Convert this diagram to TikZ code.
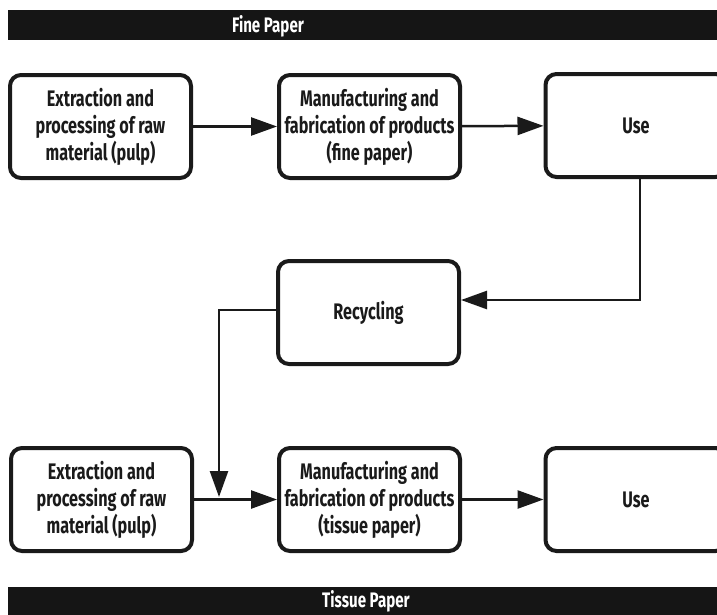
\documentclass[tikz,border=0pt]{standalone}
\usepackage{fontspec}
\setmainfont{Fira Sans}[FakeStretch=0.72]
\usetikzlibrary{arrows.meta,calc}
\definecolor{barc}{HTML}{151515}
\definecolor{ink}{HTML}{1A1A1A}
\tikzset{
  box/.style={draw=ink, line width=4pt, rounded corners=11pt, fill=white,
    minimum width=181pt, minimum height=103pt, align=center, text=ink,
    font=\fontsize{22.5}{27}\selectfont\bfseries, inner sep=2pt},
  arr/.style={draw=ink, line width=2.5pt, -{Triangle[length=26pt,width=18pt]}},
  bartext/.style={text=white, font=\fontsize{21}{24}\selectfont\bfseries, inner sep=0pt},
}
\begin{document}
\begin{tikzpicture}[x=1pt,y=-1pt]
\clip (0,0) rectangle (717,614);
\fill[white] (0,0) rectangle (717,614);
% bars
\fill[barc] (8,10) rectangle (730,40);
\node[bartext] (t1) at (268,26) {Fine Paper};
\fill[barc] (8,587) rectangle (730,630);
\node[bartext] (t2) at (366,601) {Tissue Paper};
% top row
\node[box] (b1) at (100.5,126.5) {Extraction and\\processing of raw\\material (pulp)};
\node[box] (b2) at (369.5,126.5) {Manufacturing and\\fabrication of products\\(fine paper)};
\node[box] (u1) at (636,125.5) {Use};
% recycling
\node[box] (rec) at (368.5,312.5) {Recycling};
% bottom row
\node[box] (b4) at (101.5,499.5) {Extraction and\\processing of raw\\material (pulp)};
\node[box] (b5) at (369.5,499.5) {Manufacturing and\\fabrication of products\\(tissue paper)};
\node[box] (u2) at (636,499.5) {Use};
% connectors
\draw[arr] (b1) -- (b2);
\draw[arr] (b2) -- (u1);
\coordinate (c1) at (640,300);
\draw[arr] (u1.south -| c1) -- (c1) -- (c1 -| rec.east);
\coordinate (c2) at (219,310);
\coordinate (c3) at (219,497);
\draw[arr] (c2 -| rec.west) -- (c2) -- (c3);
\draw[arr] (b4) -- (b5);
\draw[arr] (b5) -- (u2);
\end{tikzpicture}
\end{document}
